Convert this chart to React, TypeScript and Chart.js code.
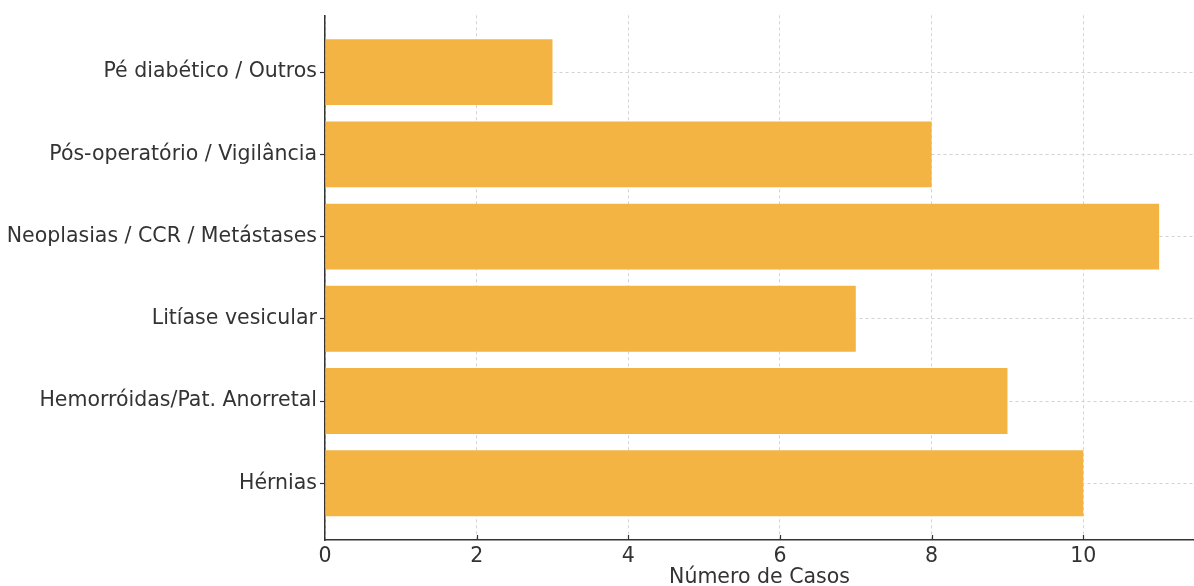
import React, { useEffect, useRef } from "react";
import { Chart, registerables } from "chart.js";

Chart.register(...registerables);

// Categories listed from bottom (index 0) to top
const categories = [
  "Hérnias",
  "Hemorróidas/Pat. Anorretal",
  "Litíase vesicular",
  "Neoplasias / CCR / Metástases",
  "Pós-operatório / Vigilância",
  "Pé diabético / Outros",
];
const counts = [10, 9, 7, 11, 8, 3];
const xTicks = [0, 2, 4, 6, 8, 10];
const xTitle = "Número de Casos";

const BAR_COLOR = "#F3B443";
const TEXT_COLOR = "#333333";
const AXIS_COLOR = "#333333";
const GRID_COLOR = "#d3d3d3";
const FONT = "'DejaVu Sans', sans-serif";

export default function App() {
  const ref = useRef<HTMLCanvasElement | null>(null);

  useEffect(() => {
    document.body.style.margin = "0";
    const canvas = ref.current;
    if (!canvas) return;

    const innerTicks = {
      id: "innerTicks",
      afterDatasetsDraw(chart: any) {
        const ctx = chart.ctx;
        const xs = chart.scales.x;
        const bottom = chart.chartArea.bottom;
        ctx.save();
        ctx.strokeStyle = AXIS_COLOR;
        ctx.lineWidth = 1.2;
        xTicks.forEach((v) => {
          if (v === 0) return;
          const px = Math.round(xs.getPixelForValue(v)) + 0.5;
          ctx.beginPath();
          ctx.moveTo(px, bottom);
          ctx.lineTo(px, bottom - 5);
          ctx.stroke();
        });
        ctx.restore();
      },
    };

    const chart = new Chart(canvas, {
      type: "bar",
      data: {
        datasets: [
          {
            data: counts.map((v, i) => ({ x: v, y: i })),
            backgroundColor: BAR_COLOR,
            borderWidth: 0,
            barPercentage: 0.8,
            categoryPercentage: 1,
          },
        ],
      },
      options: {
        indexAxis: "y",
        animation: false,
        responsive: false,
        maintainAspectRatio: false,
        layout: { padding: { top: 14, right: 0, bottom: 0, left: 0 } },
        plugins: {
          legend: { display: false },
          tooltip: { enabled: false },
        },
        scales: {
          x: {
            type: "linear",
            min: 0,
            max: 11.46,
            afterBuildTicks: (scale: any) => {
              scale.ticks = xTicks.map((v) => ({ value: v }));
            },
            afterFit: (scale: any) => {
              scale.height = 46;
            },
            grid: {
              color: GRID_COLOR,
              lineWidth: 1,
              drawTicks: false,
            },
            border: { display: true, color: AXIS_COLOR, width: 1.5, dash: [3, 3] },
            ticks: {
              color: TEXT_COLOR,
              font: { family: FONT, size: 20.5 },
              padding: 4,
              maxRotation: 0,
            },
            title: {
              display: true,
              text: xTitle,
              color: TEXT_COLOR,
              font: { family: FONT, size: 20.5, lineHeight: 1.0 },
              padding: { top: 0, bottom: -2 },
            },
          },
          y: {
            type: "linear",
            min: -0.69,
            max: 5.69,
            offset: false,
            afterBuildTicks: (scale: any) => {
              scale.ticks = categories.map((_, i) => ({ value: i }));
            },
            afterFit: (scale: any) => {
              scale.width = 325;
            },
            grid: {
              offset: false,
              color: GRID_COLOR,
              lineWidth: 1,
              drawTicks: true,
              tickLength: 5,
              tickColor: AXIS_COLOR,
              tickWidth: 1.2,
            },
            border: { display: true, color: AXIS_COLOR, width: 1.5, dash: [3, 3] },
            ticks: {
              color: TEXT_COLOR,
              font: { family: FONT, size: 20.5 },
              padding: 3,
              callback: (v: any) => categories[v as number] ?? "",
            },
          },
        },
      },
      plugins: [innerTicks],
    } as any);

    return () => chart.destroy();
  }, []);

  return (
    <div style={{ position: "relative", width: 1194, height: 586 }}>
      <canvas ref={ref} width={1194} height={586} style={{ display: "block" }} />
    </div>
  );
}
